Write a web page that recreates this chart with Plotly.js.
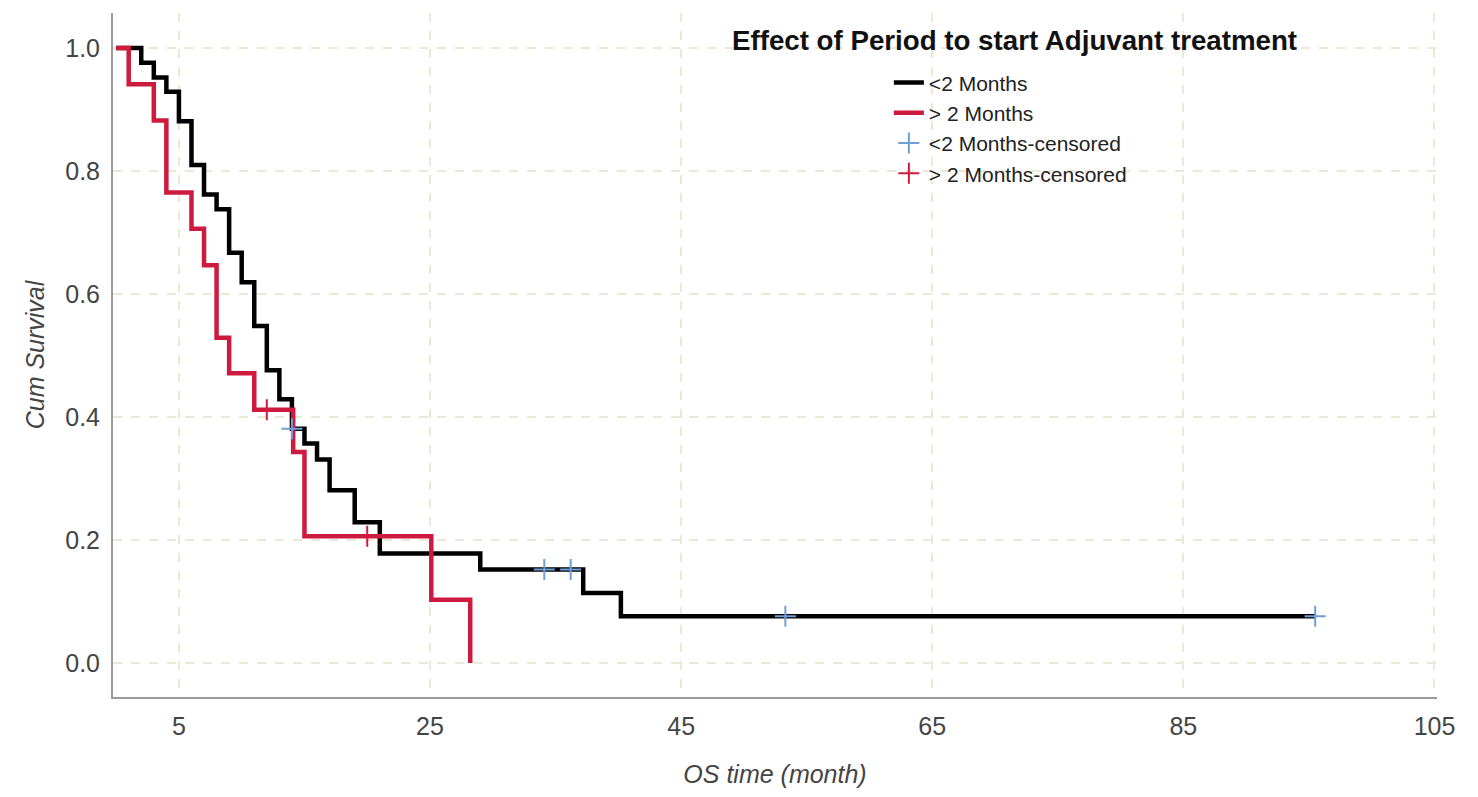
<!DOCTYPE html>
<html>
<head>
<meta charset="utf-8">
<script src="https://cdn.plot.ly/plotly-3.0.1.min.js"></script>
<style>html,body{margin:0;padding:0;background:#fff;}#chart{width:1478px;height:797px;}</style>
</head>
<body>
<div id="chart"></div>
<script>
// Kaplan-Meier step data, <2 Months group
const lt2Time = [0, 2, 3, 4, 5, 6, 7, 8, 9, 10, 11, 12, 13, 14, 15, 16, 17, 19, 21, 29, 37.2, 40.2, 95.5];
const lt2Surv = [1, 0.976, 0.952, 0.929, 0.881, 0.810, 0.762, 0.738, 0.667, 0.619, 0.548, 0.476, 0.429, 0.381, 0.357, 0.331, 0.281, 0.229, 0.178, 0.152, 0.114, 0.076, 0.076];
// > 2 Months group
const gt2Time = [0, 1, 3, 4, 6, 7, 8, 9, 11, 14.1, 15, 25.1, 28.2, 28.2];
const gt2Surv = [1, 0.941, 0.882, 0.765, 0.706, 0.647, 0.529, 0.471, 0.412, 0.343, 0.206, 0.103, 0, 0];
// censored observations
const lt2CensTime = [14.0, 34.1, 36.2, 53.3, 95.5];
const lt2CensSurv = [0.381, 0.152, 0.152, 0.076, 0.076];
const gt2CensTime = [12.0, 20.0];
const gt2CensSurv = [0.412, 0.206];
// labels
const seriesNames = ['<2 Months', '> 2 Months', '<2 Months-censored', '> 2 Months-censored'];
const xTicks = [5, 25, 45, 65, 85, 105];
const yTicks = [0.0, 0.2, 0.4, 0.6, 0.8, 1.0];
const yTickText = ['0.0', '0.2', '0.4', '0.6', '0.8', '1.0'];

const FONT = 'Liberation Sans, Arial, Helvetica, sans-serif';
const RED = '#cf1a3f';
const BLUE = '#6f9fd6';

const traces = [
  {x: lt2Time, y: lt2Surv, name: seriesNames[0], type: 'scatter', mode: 'lines',
   line: {shape: 'hv', color: '#000000', width: 4.5}},
  {x: gt2Time, y: gt2Surv, name: seriesNames[1], type: 'scatter', mode: 'lines',
   line: {shape: 'hv', color: RED, width: 4.5}},
  {x: lt2CensTime, y: lt2CensSurv, name: seriesNames[2], type: 'scatter', mode: 'markers',
   marker: {symbol: 'cross-thin', size: 15, line: {color: BLUE, width: 2}, color: BLUE}},
  {x: gt2CensTime, y: gt2CensSurv, name: seriesNames[3], type: 'scatter', mode: 'markers',
   marker: {symbol: 'cross-thin', size: 15, line: {color: RED, width: 2}, color: RED}}
];

const layout = {
  width: 1478, height: 797,
  margin: {l: 113, r: 41, t: 13, b: 100},
  paper_bgcolor: '#ffffff', plot_bgcolor: '#ffffff',
  font: {family: FONT, color: '#444444', size: 25},
  showlegend: true,
  legend: {
    x: 0.586, xanchor: 'left', y: 0.928, yanchor: 'top',
    bgcolor: 'rgba(0,0,0,0)', borderwidth: 0,
    font: {family: FONT, size: 21, color: '#222222'},
    tracegroupgap: 0, itemwidth: 30
  },
  xaxis: {
    range: [-0.25, 105.2],
    tickvals: xTicks, ticktext: xTicks.map(String),
    showgrid: true, gridcolor: '#ece8d6', griddash: 'dash', gridwidth: 1.5,
    zeroline: false, showline: true, linecolor: '#9a9a9a', linewidth: 2,
    ticks: '', ticklabelstandoff: 6,
    tickfont: {family: FONT, size: 25, color: '#444444'},
    title: {text: '<i>OS time (month)</i>', font: {family: FONT, size: 25, color: '#444444'}, standoff: 26}
  },
  yaxis: {
    range: [-0.0553, 1.057],
    tickvals: yTicks, ticktext: yTickText,
    showgrid: true, gridcolor: '#ece8d6', griddash: 'dash', gridwidth: 1.5,
    zeroline: false, showline: true, linecolor: '#9a9a9a', linewidth: 2,
    ticks: '', ticklabelstandoff: 6,
    tickfont: {family: FONT, size: 25, color: '#444444'},
    title: {text: '<i>Cum Survival</i>', font: {family: FONT, size: 25, color: '#444444'}, standoff: 13}
  },
  annotations: [{
    text: '<b>Effect of Period to start Adjuvant treatment</b>',
    xref: 'paper', yref: 'paper', x: 0.681, y: 0.9605,
    xanchor: 'center', yanchor: 'middle', showarrow: false,
    font: {family: FONT, size: 27.7, color: '#111111'}
  }]
};

Plotly.newPlot('chart', traces, layout, {displayModeBar: false, responsive: false});
</script>
</body>
</html>
